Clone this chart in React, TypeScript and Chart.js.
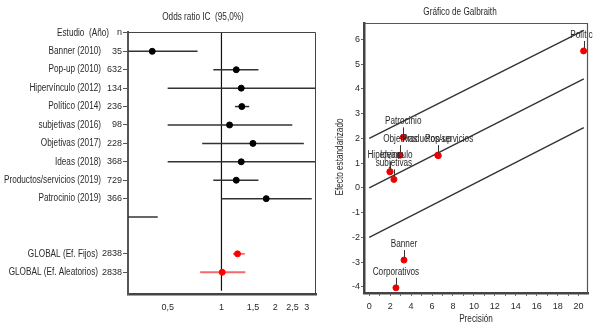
import React, { useEffect, useRef } from 'react';
import { Chart, registerables } from 'chart.js';

Chart.register(...registerables);

const FONT = "'Liberation Sans', Arial, sans-serif";
const TEXT = '#2a2a2a';
const NARROW = 0.82;

// ---------- Forest plot data ----------
const forestTitle = 'Odds ratio IC  (95,0%)';
const headerName = 'Estudio  (Año)';
const headerN = 'n';
const studyNames = [
  'Banner (2010)',
  'Pop-up (2010)',
  'Hipervínculo (2012)',
  'Político (2014)',
  'subjetivas (2016)',
  'Objetivas (2017)',
  'Ideas (2018)',
  'Productos/servicios (2019)',
  'Patrocinio (2019)',
  '',
];
const studyN: (number | null)[] = [35, 632, 134, 236, 98, 228, 368, 729, 366, null];
const studyOR = [0.41, 1.21, 1.29, 1.30, 1.11, 1.50, 1.29, 1.21, 1.78, 0.205];
const studyLow = [0.23, 0.90, 0.50, 1.19, 0.50, 0.78, 0.50, 0.90, 1.00, 0.095];
const studyHigh = [0.735, 1.61, 3.47, 1.43, 2.49, 2.89, 3.47, 1.61, 3.2, 0.44];

const pooledNames = ['GLOBAL (Ef. Fijos)', 'GLOBAL (Ef. Aleatorios)'];
const pooledN = [2838, 2838];
const pooledOR = [1.23, 1.01];
const pooledLow = [1.16, 0.76];
const pooledHigh = [1.35, 1.36];
const pooledRows = [12, 13];

const forestXTicks = [0.5, 1, 1.5, 2, 2.5, 3];
const forestXMin = 0.304;
const forestXMax = 3.38;
const nullEffect = 1;

// ---------- Galbraith data ----------
const galTitle = 'Gráfico de Galbraith';
const galXTitle = 'Precisión';
const galYTitle = 'Efecto estandarizado';
const galLabels = [
  'Banner',
  'Pop-up',
  'Hipervinculo',
  'Político',
  'subjetivas',
  'Objetivas',
  'Ideas',
  'Productos/servicios',
  'Patrocinio',
  'Corporativos',
];
const galPrecision = [3.32, 6.6, 1.98, 20.48, 2.36, 2.96, 1.98, 6.54, 3.25, 2.55];
const galEffect = [-2.92, 1.3, 0.65, 5.53, 0.34, 1.32, 0.65, 1.32, 2.04, -4.04];
const galLineX = [0, 20.5];
const galLineUpper = [2, 6.36];
const galLineMid = [0, 4.4];
const galLineLower = [-2, 2.43];
const galXTicks = [0, 1, 2, 3, 4, 5, 6, 7, 8, 9, 10, 11, 12, 13, 14, 15, 16, 17, 18, 19, 20];
const galYTicks = [-4, -3, -2, -1, 0, 1, 2, 3, 4, 5, 6];

const tickFont = { family: FONT, size: 9 };

function narrowText(ctx: CanvasRenderingContext2D, text: string, x: number, y: number, align: CanvasTextAlign, size = 10) {
  ctx.save();
  ctx.translate(x, y);
  ctx.scale(NARROW, 1);
  ctx.font = `${size}px ${FONT}`;
  ctx.textAlign = align;
  ctx.textBaseline = 'middle';
  ctx.fillText(text, 0, 0);
  ctx.restore();
}

function ForestChart() {
  const ref = useRef<HTMLCanvasElement>(null);
  useEffect(() => {
    if (!ref.current) return;
    const datasets: any[] = [];
    datasets.push({
      type: 'line',
      data: [
        { x: nullEffect, y: -0.05 },
        { x: nullEffect, y: 14.0 },
      ],
      borderColor: '#111',
      borderWidth: 1.2,
      pointRadius: 0,
      order: 5,
      clip: 0,
    });
    studyNames.forEach((_, i) => {
      datasets.push({
        type: 'line',
        data: [
          { x: studyLow[i], y: i + 1 },
          { x: studyHigh[i], y: i + 1 },
        ],
        borderColor: '#333',
        borderWidth: 1.5,
        pointRadius: 0,
        order: 3,
        clip: 0,
      });
    });
    pooledNames.forEach((_, i) => {
      datasets.push({
        type: 'line',
        data: [
          { x: pooledLow[i], y: pooledRows[i] },
          { x: pooledHigh[i], y: pooledRows[i] },
        ],
        borderColor: '#f26b6b',
        borderWidth: 1.8,
        pointRadius: 0,
        order: 3,
        clip: 0,
      });
    });
    datasets.push({
      type: 'scatter',
      data: studyOR.map((v, i) => ({ x: v, y: i + 1 })),
      backgroundColor: '#000',
      borderColor: '#000',
      pointRadius: 3,
      order: 1,
      clip: 0,
    });
    datasets.push({
      type: 'scatter',
      data: pooledOR.map((v, i) => ({ x: v, y: pooledRows[i] })),
      backgroundColor: '#ff0000',
      borderColor: '#ff0000',
      pointRadius: 3,
      order: 1,
      clip: 0,
    });

    const rowTicks = [0, ...studyNames.map((_, i) => i + 1).filter((r) => studyN[r - 1] != null), ...pooledRows];
    const rowLabel = (v: number) => {
      if (v === 0) return headerN;
      const pi = pooledRows.indexOf(v);
      if (pi >= 0) return String(pooledN[pi]);
      const n = studyN[v - 1];
      return n == null ? '' : String(n);
    };

    const textPlugin = {
      id: 'forestText',
      afterDraw(chart: any) {
        const { ctx, chartArea: a, scales } = chart;
        const y = scales.y;
        ctx.save();
        ctx.fillStyle = TEXT;
        narrowText(ctx, headerName, a.left - 19, y.getPixelForValue(0), 'right');
        studyNames.forEach((s, i) => narrowText(ctx, s, a.left - 27, y.getPixelForValue(i + 1), 'right'));
        pooledNames.forEach((s, i) => narrowText(ctx, s, a.left - 30, y.getPixelForValue(pooledRows[i]), 'right'));
        narrowText(ctx, forestTitle, 203, 17, 'center');
        ctx.strokeStyle = '#444';
        ctx.lineWidth = 1;
        ctx.beginPath();
        ctx.moveTo(a.left, a.top + 0.5);
        ctx.lineTo(a.right - 0.5, a.top + 0.5);
        ctx.lineTo(a.right - 0.5, a.bottom);
        ctx.stroke();
        ctx.restore();
      },
    };

    const chart = new Chart(ref.current, {
      type: 'scatter',
      data: { datasets },
      options: {
        animation: false,
        responsive: false,
        events: [],
        layout: { padding: { top: 32, right: 14, left: 0, bottom: 0 } },
        plugins: { legend: { display: false }, tooltip: { enabled: false }, title: { display: false } },
        scales: {
          x: {
            type: 'logarithmic',
            min: forestXMin,
            max: forestXMax,
            afterBuildTicks: (s: any) => {
              s.ticks = forestXTicks.map((v) => ({ value: v }));
            },
            afterFit: (s: any) => {
              s.height = 33;
            },
            ticks: {
              autoSkip: false,
              maxRotation: 0,
              padding: 4,
              color: TEXT,
              font: tickFont,
              callback: (v: any) => String(v).replace('.', ','),
            },
            grid: { display: true, drawOnChartArea: false, drawTicks: true, tickLength: 4, tickColor: 'rgba(0,0,0,0)' },
            border: { display: true, color: '#444', width: 2.5 },
          },
          y: {
            type: 'linear',
            reverse: true,
            min: -0.05,
            max: 14.18,
            afterBuildTicks: (s: any) => {
              s.ticks = rowTicks.map((v) => ({ value: v }));
            },
            afterFit: (s: any) => {
              s.width = 128;
            },
            ticks: {
              autoSkip: false,
              padding: 1,
              color: TEXT,
              font: tickFont,
              callback: (v: any) => rowLabel(Number(v)),
            },
            grid: { display: true, drawOnChartArea: false, drawTicks: true, tickLength: 5, tickColor: '#555' },
            border: { display: true, color: '#555', width: 2 },
          },
        },
      } as any,
      plugins: [textPlugin],
    });
    return () => chart.destroy();
  }, []);
  return <canvas ref={ref} width={330} height={327} style={{ position: 'absolute', left: 0, top: 0 }} />;
}

function GalbraithChart() {
  const ref = useRef<HTMLCanvasElement>(null);
  useEffect(() => {
    if (!ref.current) return;
    const mkLine = (ys: number[]) => ({
      type: 'line',
      data: galLineX.map((x, i) => ({ x, y: ys[i] })),
      borderColor: '#333',
      borderWidth: 1.4,
      pointRadius: 0,
      order: 3,
    });
    const datasets: any[] = [
      mkLine(galLineUpper),
      mkLine(galLineMid),
      mkLine(galLineLower),
      {
        type: 'scatter',
        data: galPrecision.map((x, i) => ({ x, y: galEffect[i] })),
        backgroundColor: '#ee0000',
        borderColor: '#ee0000',
        pointRadius: 3,
        order: 1,
      },
    ];

    const labelPlugin = {
      id: 'galText',
      afterDraw(chart: any) {
        const { ctx, chartArea: a, scales } = chart;
        const x = scales.x;
        const y = scales.y;
        ctx.save();
        ctx.fillStyle = TEXT;
        ctx.strokeStyle = '#333';
        ctx.lineWidth = 1;
        galLabels.forEach((lab, i) => {
          const px = x.getPixelForValue(galPrecision[i]);
          const py = y.getPixelForValue(galEffect[i]);
          narrowText(ctx, lab, px, py - 16, 'center');
          ctx.beginPath();
          ctx.moveTo(Math.round(px) + 0.5, py - 10);
          ctx.lineTo(Math.round(px) + 0.5, py - 3);
          ctx.stroke();
        });
        narrowText(ctx, galTitle, 130, 12, 'center');
        narrowText(ctx, galXTitle, (a.left + a.right) / 2, 319, 'center');
        ctx.save();
        ctx.translate(10, 157);
        ctx.rotate(-Math.PI / 2);
        narrowText(ctx, galYTitle, 0, 0, 'center');
        ctx.restore();
        ctx.strokeStyle = '#555';
        ctx.lineWidth = 1.2;
        ctx.beginPath();
        ctx.moveTo(a.left, a.top + 0.5);
        ctx.lineTo(a.right - 0.5, a.top + 0.5);
        ctx.lineTo(a.right - 0.5, a.bottom);
        ctx.stroke();
        ctx.restore();
      },
    };

    const chart = new Chart(ref.current, {
      type: 'scatter',
      data: { datasets },
      options: {
        animation: false,
        responsive: false,
        events: [],
        layout: { padding: { top: 23, right: 5, left: 0, bottom: 0 } },
        plugins: { legend: { display: false }, tooltip: { enabled: false } },
        scales: {
          x: {
            type: 'linear',
            min: -0.5,
            max: 20.9,
            afterBuildTicks: (s: any) => {
              s.ticks = galXTicks.map((v) => ({ value: v }));
            },
            afterFit: (s: any) => {
              s.height = 34;
            },
            ticks: {
              autoSkip: false,
              maxRotation: 0,
              padding: 5,
              color: TEXT,
              font: tickFont,
              callback: (v: any) => (Number(v) % 2 === 0 ? String(v) : ''),
            },
            grid: { display: true, drawOnChartArea: false, drawTicks: true, tickLength: 3, tickColor: '#666' },
            border: { display: true, color: '#444', width: 2.5 },
          },
          y: {
            type: 'linear',
            min: -4.25,
            max: 6.66,
            afterBuildTicks: (s: any) => {
              s.ticks = galYTicks.map((v) => ({ value: v }));
            },
            afterFit: (s: any) => {
              s.width = 34;
            },
            ticks: {
              autoSkip: false,
              padding: 1,
              color: TEXT,
              font: tickFont,
            },
            grid: { display: true, drawOnChartArea: false, drawTicks: true, tickLength: 3, tickColor: '#666' },
            border: { display: true, color: '#444', width: 2.5 },
          },
        },
      } as any,
      plugins: [labelPlugin],
    });
    return () => chart.destroy();
  }, []);
  return <canvas ref={ref} width={263} height={327} style={{ position: 'absolute', left: 330, top: 0 }} />;
}

export default function App() {
  return (
    <div style={{ position: 'absolute', left: 0, top: 0, width: 593, height: 327, background: '#fff', overflow: 'hidden' }}>
      <ForestChart />
      <GalbraithChart />
    </div>
  );
}
